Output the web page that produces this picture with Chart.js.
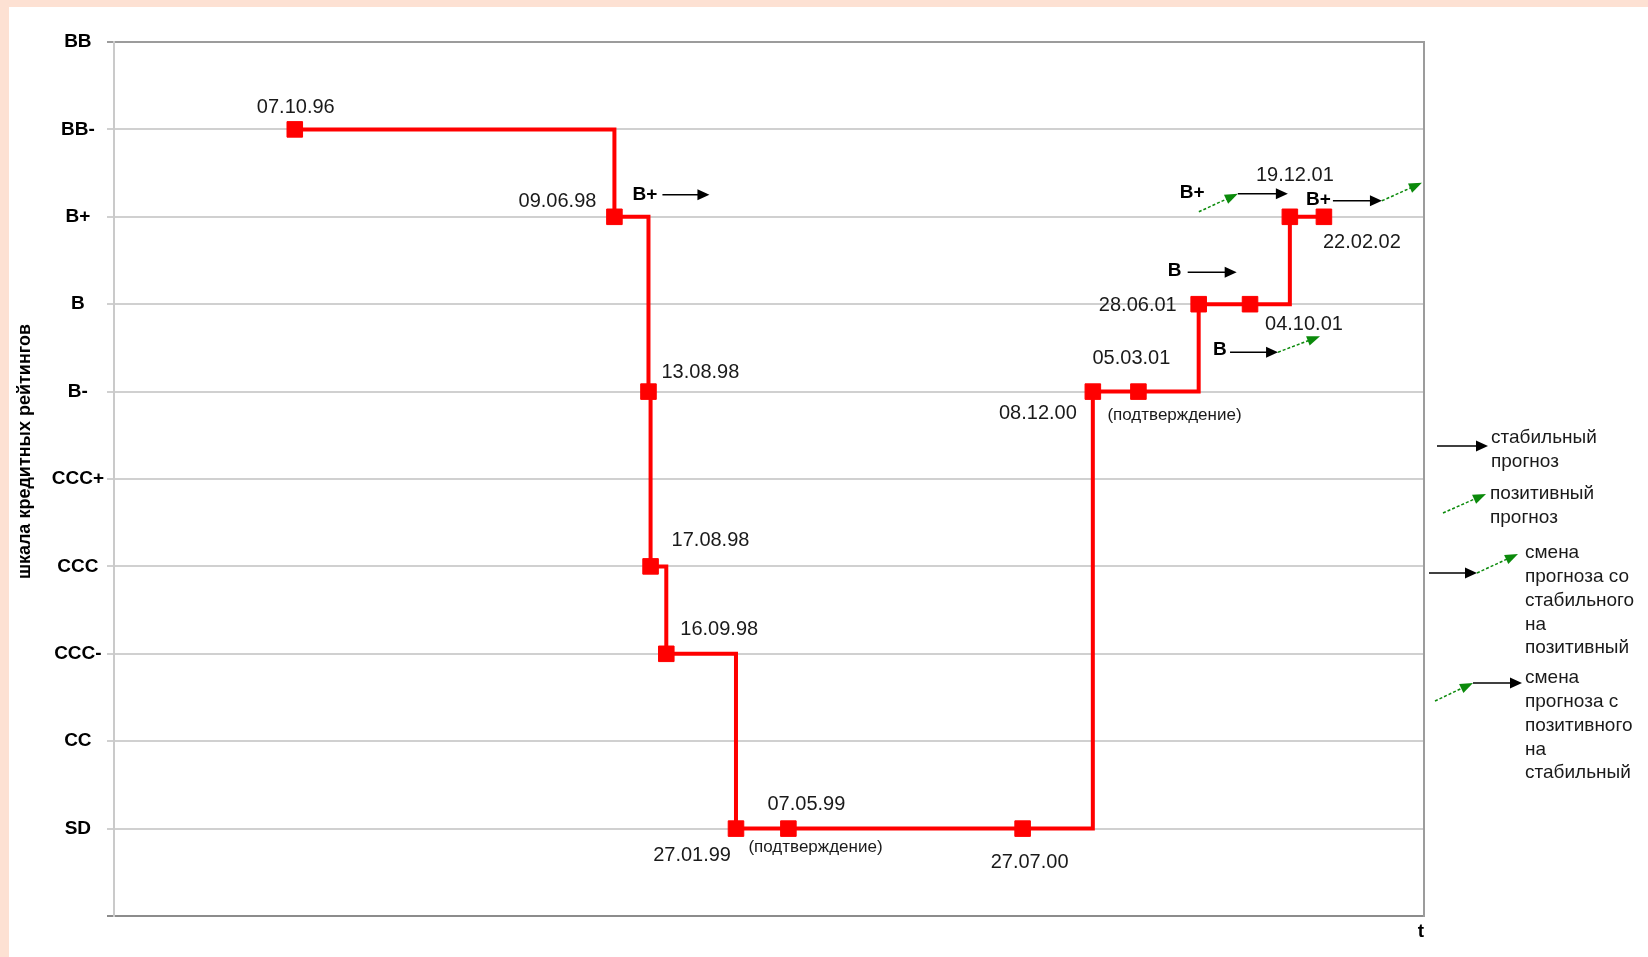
<!DOCTYPE html>
<html>
<head>
<meta charset="utf-8">
<script src="https://cdn.jsdelivr.net/npm/chart.js@4/dist/chart.umd.min.js"></script>
<style>
  html, body { margin: 0; padding: 0; background: #fde1d3; }
  #wrap { position: absolute; left: 9px; top: 7px; width: 1639px; height: 950px; background: #fff; }
</style>
</head>
<body>
<div id="wrap"><canvas id="ratingChart"></canvas></div>
<script>
// rating scale, top to bottom (last row is the empty bottom line)
const ratingScale = ['BB', 'BB-', 'B+', 'B', 'B-', 'CCC+', 'CCC', 'CCC-', 'CC', 'SD', ''];

// rating actions
const dates = ['07.10.96', '09.06.98', '13.08.98', '17.08.98', '16.09.98', '27.01.99', '07.05.99',
               '27.07.00', '08.12.00', '05.03.01', '28.06.01', '04.10.01', '19.12.01', '22.02.02'];
const ratings = ['BB-', 'B+', 'B-', 'CCC', 'CCC-', 'SD', 'SD', 'SD', 'B-', 'B-', 'B', 'B', 'B+', 'B+'];
const confirmations = ['07.05.99', '05.03.01'];
const confirmText = '(подтверждение)';

// outlooks written next to the line
const outlookDates = ['09.06.98', '28.06.01', '04.10.01', '19.12.01', '22.02.02'];
const outlookRatings = ['B+', 'B', 'B', 'B+', 'B+'];

const legendTexts = [
  ['стабильный', 'прогноз'],
  ['позитивный', 'прогноз'],
  ['смена', 'прогноза со', 'стабильного', 'на', 'позитивный'],
  ['смена', 'прогноза с', 'позитивного', 'на', 'стабильный']
];

// x axis range (excel day numbers)
const axisMin = 35000;
const axisMax = 37500;

function toSerial(s) {
  const [d, m, y] = s.split('.').map(Number);
  const year = y < 50 ? 2000 + y : 1900 + y;
  return Date.UTC(year, m - 1, d) / 86400000 + 25569;
}

// ---- label placement (pixel offsets from the point) ----
const dateLabelPos = [
  [1, -22, 'center'], [-18, -15, 'right'], [13, -19, 'left'], [21, -26, 'left'],
  [14, -24, 'left'], [-5, 27, 'right'], [18, -24, 'center'], [7, 34, 'center'],
  [-16, 22, 'right'], [-7, -33, 'center'], [-22, 1, 'right'], [15, 20, 'left'],
  [5, -41, 'center'], [38, 26, 'center']
];
const confirmPos = [[-40, 19], [-31, 24]];
// text offset, then arrows: [kind, x1, y1, x2, y2]
const outlookPos = [
  { text: [18, -22], arrows: [['s', 48, -22, 95, -22]] },
  { text: [-31, -33], arrows: [['s', -11, -32, 38, -32]] },
  { text: [-37, 46], arrows: [['s', -20, 48, 28, 48], ['p', 28, 48, 70, 32]] },
  { text: [-110, -24], arrows: [['p', -91, -5, -52, -23], ['s', -52, -23, -2, -23]] },
  { text: [-18, -17], arrows: [['s', 9, -16, 58, -16], ['p', 58, -16, 98, -34]] }
];
// legend, relative to the top-right corner of the plot
const legendPos = [
  { text: [67, 396], arrows: [['s', 13, 404, 64, 404]] },
  { text: [66, 452], arrows: [['p', 19, 471, 62, 452]] },
  { text: [101, 511], arrows: [['s', 5, 531, 53, 531], ['p', 53, 531, 94, 512]] },
  { text: [101, 636], arrows: [['p', 11, 659, 49, 641], ['s', 49, 641, 98, 641]] }
];

const FONT = '"Liberation Sans", Arial, sans-serif';
const GREEN = '#0b8a0b';

function head(ctx, x1, y1, x2, y2, len, half, color) {
  const a = Math.atan2(y2 - y1, x2 - x1);
  const bx = x2 - len * Math.cos(a), by = y2 - len * Math.sin(a);
  ctx.fillStyle = color;
  ctx.beginPath();
  ctx.moveTo(x2, y2);
  ctx.lineTo(bx + half * Math.sin(a), by - half * Math.cos(a));
  ctx.lineTo(bx - half * Math.sin(a), by + half * Math.cos(a));
  ctx.closePath();
  ctx.fill();
}

function arrow(ctx, kind, x1, y1, x2, y2) {
  ctx.save();
  if (kind === 's') {
    ctx.strokeStyle = '#000';
    ctx.lineWidth = 1.6;
    ctx.beginPath();
    ctx.moveTo(x1, y1);
    ctx.lineTo(x2 - 8, y2);
    ctx.stroke();
    head(ctx, x1, y1, x2, y2, 12, 5.5, '#000');
  } else {
    ctx.strokeStyle = GREEN;
    ctx.lineWidth = 1.5;
    ctx.setLineDash([3, 2]);
    const a = Math.atan2(y2 - y1, x2 - x1);
    ctx.beginPath();
    ctx.moveTo(x1, y1);
    ctx.lineTo(x2 - 9 * Math.cos(a), y2 - 9 * Math.sin(a));
    ctx.stroke();
    ctx.setLineDash([]);
    head(ctx, x1, y1, x2, y2, 13, 5, GREEN);
  }
  ctx.restore();
}

const annotations = {
  id: 'annotations',
  afterDatasetsDraw(chart) {
    const ctx = chart.ctx;
    const pts = chart.getDatasetMeta(0).data;
    ctx.save();
    ctx.textBaseline = 'middle';

    // dates
    ctx.font = '20px ' + FONT;
    ctx.fillStyle = '#1a1a1a';
    dates.forEach((d, i) => {
      const [dx, dy, al] = dateLabelPos[i];
      ctx.textAlign = al;
      ctx.fillText(d, pts[i].x + dx, pts[i].y + dy);
    });

    // confirmations
    ctx.font = '17px ' + FONT;
    ctx.textAlign = 'left';
    confirmations.forEach((d, k) => {
      const p = pts[dates.indexOf(d)];
      ctx.fillText(confirmText, p.x + confirmPos[k][0], p.y + confirmPos[k][1]);
    });

    // outlooks
    outlookDates.forEach((d, k) => {
      const p = pts[dates.indexOf(d)];
      const o = outlookPos[k];
      ctx.font = 'bold 19px ' + FONT;
      ctx.fillStyle = '#000';
      ctx.textAlign = 'left';
      ctx.fillText(outlookRatings[k], p.x + o.text[0], p.y + o.text[1]);
      o.arrows.forEach(a => arrow(ctx, a[0], p.x + a[1], p.y + a[2], p.x + a[3], p.y + a[4]));
    });

    // legend
    const {right, top} = chart.chartArea;
    ctx.font = '19px ' + FONT;
    ctx.textAlign = 'left';
    legendTexts.forEach((lines, k) => {
      const l = legendPos[k];
      ctx.fillStyle = '#1a1a1a';
      lines.forEach((t, j) => ctx.fillText(t, right + l.text[0], top + l.text[1] + j * 23.8));
      l.arrows.forEach(a => arrow(ctx, a[0], right + a[1], top + a[2], right + a[3], top + a[4]));
    });
    ctx.restore();
  }
};

const points = dates.map((d, i) => ({ x: toSerial(d), y: ratings[i] }));

new Chart(document.getElementById('ratingChart'), {
  type: 'line',
  data: {
    datasets: [{
      data: points,
      borderColor: '#ff0000',
      backgroundColor: '#ff0000',
      borderWidth: 4,
      stepped: true,
      pointStyle: 'rect',
      pointRadius: 11,
      pointBorderWidth: 1,
      pointBorderColor: '#ff0000',
      pointBackgroundColor: '#ff0000',
      yAxisID: 'y'
    }]
  },
  options: {
    responsive: true,
    maintainAspectRatio: false,
    animation: false,
    events: [],
    layout: { padding: { left: 0, top: 35, right: 224, bottom: 0 } },
    plugins: {
      legend: { display: false },
      tooltip: { enabled: false }
    },
    scales: {
      x: {
        type: 'linear',
        min: axisMin,
        max: axisMax,
        ticks: { display: false },
        grid: { display: false, drawTicks: false },
        border: { color: '#8c8c8c', width: 2 },
        title: {
          display: true, text: 't', align: 'end', color: '#000',
          font: { family: FONT, size: 19, weight: 'bold' },
          padding: { top: 0, bottom: 14 }
        },
        afterFit: s => { s.height = 41; }
      },
      y: {
        type: 'category',
        labels: ratingScale,
        position: 'left',
        grid: {
          color: c => c.index === 0 ? '#9c9c9c' : (c.index === ratingScale.length - 1 ? '#8c8c8c' : '#d0d0d0'),
          lineWidth: 2,
          tickLength: 7
        },
        border: { color: '#cacaca', width: 2 },
        ticks: {
          crossAlign: 'center', padding: 3, color: '#000', autoSkip: false,
          font: { family: FONT, size: 19, weight: 'bold' }
        },
        title: {
          display: true,
          text: '           шкала кредитных рейтингов',
          color: '#000',
          font: { family: FONT, size: 18, weight: 'bold' },
          padding: { top: 5, bottom: 0 }
        },
        afterFit: s => { s.width = 105; }
      },
      yRight: {
        type: 'category',
        labels: ratingScale,
        position: 'right',
        ticks: { display: false },
        grid: { display: false, drawTicks: false },
        border: { color: '#9c9c9c', width: 2 },
        afterFit: s => { s.width = 0; }
      }
    }
  },
  plugins: [annotations]
});
</script>
</body>
</html>
